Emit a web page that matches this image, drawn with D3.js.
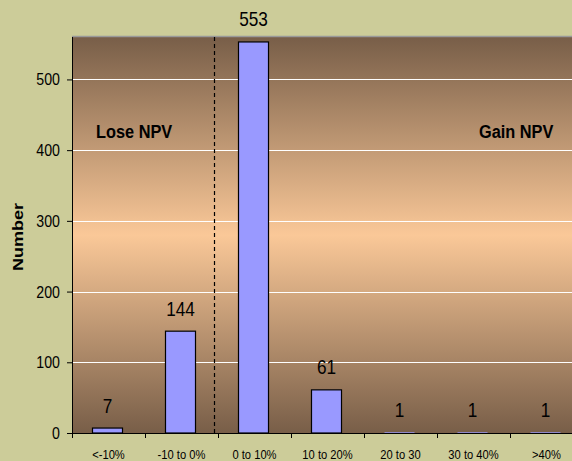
<!DOCTYPE html>
<html><head><meta charset="utf-8">
<script src="https://cdn.jsdelivr.net/npm/d3@7"></script>
<style>body{margin:0;background:#CCCC99;}svg{display:block;font-family:Arial,"Liberation Sans",sans-serif;}</style>
</head><body><svg id="c" width="572" height="461"></svg>
<script>
const categories = ["<-10%", "-10 to 0%", "0 to 10%", "10 to 20%", "20 to 30", "30 to 40%", ">40%"];
const values = [7, 144, 553, 61, 1, 1, 1];
const yTicks = [0, 100, 200, 300, 400, 500];
const yMax = 560;

const SX = 0.86; // horizontal text squeeze seen in the reference
const svg = d3.select("#c");
const m = {left: 72, top: 37, right: 583, bottom: 433};
const x = d3.scaleBand().domain(categories).range([m.left, m.right]).paddingInner(0).paddingOuter(0);
const y = d3.scaleLinear().domain([0, yMax]).range([m.bottom, m.top]);

svg.append("rect").attr("width", 572).attr("height", 461).attr("fill", "#CCCC99");

const defs = svg.append("defs");
const g = defs.append("linearGradient").attr("id", "bg").attr("x1", 0).attr("y1", 0).attr("x2", 0).attr("y2", 1);
g.append("stop").attr("offset", "0%").attr("stop-color", "#785E48");
g.append("stop").attr("offset", "50%").attr("stop-color", "#FAC898");
g.append("stop").attr("offset", "100%").attr("stop-color", "#785E48");

svg.append("rect").attr("x", m.left).attr("y", m.top).attr("width", m.right - m.left).attr("height", m.bottom - m.top).attr("fill", "url(#bg)");
svg.append("line").attr("x1", m.left).attr("x2", 572).attr("y1", m.top - 0.5).attr("y2", m.top - 0.5).attr("stroke", "#999999").attr("stroke-width", 1.5);

// gridlines
svg.append("g").selectAll("line").data(yTicks.filter(d => d > 0)).join("line")
  .attr("x1", m.left).attr("x2", m.right)
  .attr("y1", d => Math.round(y(d)) + 0.5).attr("y2", d => Math.round(y(d)) + 0.5)
  .attr("stroke", "#ffffff").attr("stroke-width", 1);

// dashed divider
svg.append("line").attr("x1", x(categories[2]) - 3.5).attr("x2", x(categories[2]) - 3.5)
  .attr("y1", m.top).attr("y2", m.bottom).attr("stroke", "#000").attr("stroke-width", 1.2).attr("stroke-dasharray", "4,3");

// bars
const bw = 30;
svg.append("g").selectAll("rect").data(values).join("rect")
  .attr("x", (d, i) => x(categories[i]) + x.bandwidth() / 2 - bw / 2 - 1)
  .attr("y", d => y(d))
  .attr("width", bw).attr("height", d => y(0) - y(d))
  .attr("fill", "#9999FF")
  .attr("stroke", d => (y(0) - y(d)) < 2 ? "none" : "#000").attr("stroke-width", 1.2);

// value labels
svg.append("g").selectAll("text").data(values).join("text")
  .attr("transform", (d, i) => `translate(${x(categories[i]) + x.bandwidth() / 2 - 1},${y(d) - 15.5}) scale(${SX},1)`)
  .attr("text-anchor", "middle").style("font-size", "20px").attr("fill", "#000")
  .text(d => d);

// y axis (ticks via d3 axis, labels drawn alongside)
const yAxis = d3.axisLeft(y).tickValues(yTicks).tickSize(5).tickFormat("");
const ya = svg.append("g").attr("transform", `translate(${m.left},0)`).call(yAxis);
ya.select(".domain").attr("stroke", "#000").attr("d", `M0.5,${m.top}V${m.bottom}`);
ya.selectAll(".tick line").attr("stroke", "#000");
svg.append("g").selectAll("text").data(yTicks).join("text")
  .attr("transform", d => `translate(60,${y(d) + 6}) scale(${SX},1)`)
  .attr("text-anchor", "end").style("font-size", "16.5px").attr("fill", "#000")
  .text(d => d);

// x axis
const xTickPos = categories.map(c => x(c));
const xa = svg.append("g").attr("transform", `translate(0,${m.bottom})`);
xa.append("line").attr("x1", m.left).attr("x2", 572).attr("y1", 0.5).attr("y2", 0.5).attr("stroke", "#000");
xa.selectAll("line.t").data(xTickPos).join("line").attr("class", "t")
  .attr("x1", d => d + 0.5).attr("x2", d => d + 0.5).attr("y1", 0).attr("y2", 5).attr("stroke", "#000");
xa.selectAll("text").data(categories).join("text")
  .attr("transform", c => `translate(${x(c) + x.bandwidth() / 2},26) scale(${SX},1)`)
  .attr("text-anchor", "middle").style("font-size", "13px").attr("fill", "#000")
  .text(c => c);

// annotations
svg.append("text").attr("transform", `translate(96,138) scale(${SX},1)`).style("font-size", "19px").attr("font-weight", "bold").text("Lose NPV");
svg.append("text").attr("transform", `translate(479,138) scale(${SX},1)`).style("font-size", "19px").attr("font-weight", "bold").text("Gain NPV");

svg.append("text").attr("transform", `translate(22.5,237) scale(${SX},1) rotate(-90)`).attr("text-anchor", "middle")
  .style("font-size", "18px").attr("font-weight", "bold").text("Number");
</script></body></html>
